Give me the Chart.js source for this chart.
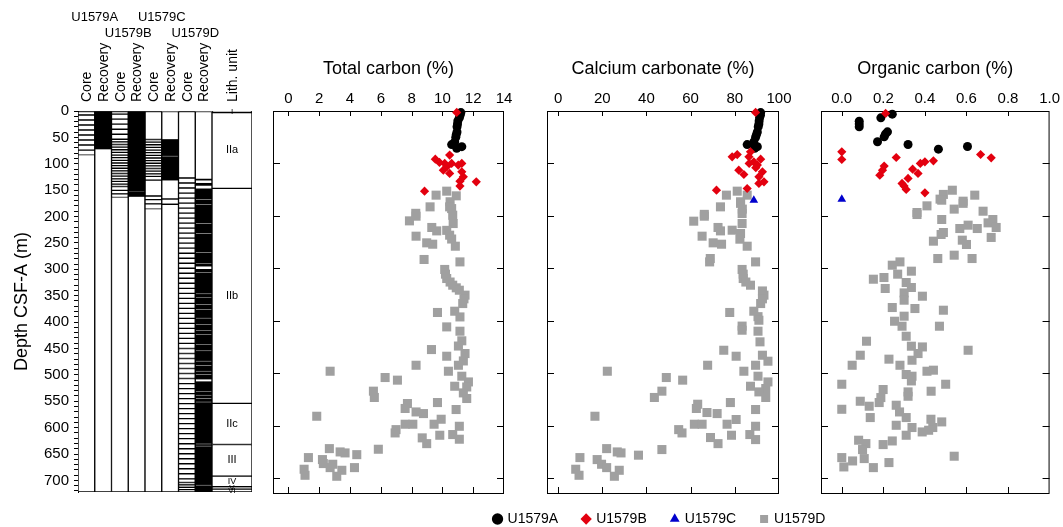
<!DOCTYPE html>
<html>
<head>
<meta charset="utf-8">
<title>Site U1579 carbon</title>
<script src="https://cdn.jsdelivr.net/npm/chart.js@4.4.1/dist/chart.umd.min.js"></script>
<style>
html,body{margin:0;padding:0;background:#ffffff;width:1063px;height:527px;overflow:hidden;position:relative;}
canvas{position:absolute;display:block;}
</style>
</head>
<body>
<canvas id="coreChart" width="1063" height="527" style="left:0;top:0;width:1063px;height:527px"></canvas>
<canvas id="lithChart" width="1063" height="527" style="left:0;top:0;width:1063px;height:527px"></canvas>
<canvas id="tcChart" width="1063" height="527" style="left:0;top:0;width:1063px;height:527px"></canvas>
<canvas id="ccChart" width="1063" height="527" style="left:0;top:0;width:1063px;height:527px"></canvas>
<canvas id="ocChart" width="1063" height="527" style="left:0;top:0;width:1063px;height:527px"></canvas>
<canvas id="legChart" width="400" height="140" style="left:460px;top:487px;width:400px;height:140px"></canvas>
<script>
// ---------------- DATA ----------------
const HOLES = ['U1579A', 'U1579B', 'U1579C', 'U1579D'];
const COLUMN_LABELS = ['Core', 'Recovery', 'Core', 'Recovery', 'Core', 'Recovery', 'Core', 'Recovery'];
const LITH_HEADER = 'Lith. unit';

const DEPTH_LABELS = [0, 50, 100, 150, 200, 250, 300, 350, 400, 450, 500, 550, 600, 650, 700];
const DEPTH_TICKS = [100, 200, 300, 400, 500, 600, 700];
const TC_TICKS = [0, 2, 4, 6, 8, 10, 12, 14];
const CC_TICKS = [0, 20, 40, 60, 80, 100];
const OC_TICKS = [0, 0.2, 0.4, 0.6, 0.8, 1.0];

// cored intervals [top, base] (m CSF-A)
const CORES_A = [[0,7.5],[7.5,17],[17,26.5],[26.5,36],[36,45.5],[45.5,55],[55,64.5],[64.5,74],[74,83.5]];
const CORES_B = [[0,6],[6,15.5],[15.5,25],[25,34.5],[34.5,44],[44,53.5],[53.5,58.5],[58.5,63.5],[63.5,68.5],[68.5,73.5],[73.5,78.5],[78.5,83.5],[83.5,88.5],[88.5,93.5],[93.5,98.5],[98.5,103.5],[103.5,108.5],[108.5,113.5],[113.5,118.5],[118.5,123.5],[123.5,128.5],[128.5,133.5],[133.5,138.5],[138.5,143],[143,150.5],[150.5,157],[157,164]];
const CORES_C = [[0,54],[54,59],[59,64],[64,69],[69,74],[74,79],[79,84],[84,89],[89,94],[94,99],[99,104],[104,109],[109,114],[114,119],[119,124],[124,131],[131,161],[161,168],[168,176],[176,186]];
const CORE_D_BOUNDS = [0,127,136.5,146,155.5,165,174.5,184,193.5,203,212.5,222,231.5,241,250.5,260,269.5,279,288.5,298,307.5,317,326.5,336,345.5,355,364.5,374,383.5,393,402.5,412,421.5,431,440.5,450,459.5,469,478.5,488,497.5,507,516.5,526,535.5,545,554.5,564,573.5,583,592.5,602,611.5,621,630.5,640,649.5,659,668.5,678,687.5,697,704,708.5,713,717.5,722];

// recovered intervals [top, base]
const REC_A = [[0,72]];
const REC_B = [[0,152.5],[154,162]];
const REC_C = [[54,84.5],[86.5,131],[166,167.5],[176,177.5]];
const REC_D = [[129,131],[137,141],[147.5,167],[169,176.5],[178.5,212],[214,231],[233,267.5],[269.5,288.5],[290.5,294],[300,305.5],[307.5,345.5],[347.5,353],[355,366],[368,375.5],[377.5,391.5],[393.5,404],[406,415.5],[417.5,423],[425,441],[443,453.5],[455.5,473],[475,481.5],[483.5,492],[494,498],[500,508],[513,530],[532,537.5],[539.5,544],[546,550.5],[552.5,630],[632,634],[636,708],[710,722]];

// lithologic units
const LITH_UNITS = ['I', 'IIa', 'IIb', 'IIc', 'III', 'IV', 'V', 'VI'];
const LITH_TOP  = [0, 3, 146.5, 554, 632, 692, 712, 716.5];
const LITH_BASE = [3, 146.5, 554, 632, 692, 712, 716.5, 722];

// [depth (m), value]
const TC_A = [[3,11.2],[8,11.15],[13,11.1],[19,11.0],[25,10.98],[30,10.95],[40,10.95],[45,10.9],[50,10.87],[59,10.8],[64,10.6],[68,11.26],[71,10.93]];
const TC_B = [[2.8,10.93],[84,10.47],[91.8,9.54],[98,9.81],[100,10.15],[100,10.6],[103,11.03],[100,11.26],[106,10.3],[112.8,10.06],[116,11.26],[119,10.47],[125.5,11.36],[133.7,11.14],[135,12.2],[143,11.14],[152.8,8.84]];
const TC_C = [];
const TC_D = [[152.8,10.28],[160.4,9.59],[161.7,10.9],[173,10.5],[182.7,9.2],[182.7,10.47],[186,10.6],[195,8.27],[198.6,10.67],[200.5,8.29],[209.4,7.86],[214.5,10.7],[222,9.31],[227.5,10.28],[228.5,9.63],[236.7,10.47],[238.6,8.29],[244,10.6],[251.3,8.98],[253.9,9.37],[257.7,10.84],[283,8.81],[287.6,11.14],[302,10.15],[311,10.2],[319.3,10.28],[326,10.5],[332,10.67],[337,10.9],[341.6,11.1],[351,11.47],[358,11.4],[367,11.32],[381.6,10.8],[384,9.68],[392.5,11.14],[411.5,10.28],[419.7,11.14],[438,11.26],[448,11.04],[454.7,9.29],[462.3,11.47],[467.4,10.28],[476.4,11.36],[484.6,11.04],[484.6,8.29],[496,10.39],[496,2.71],[505.5,11.26],[508,6.28],[513,7.08],[516.4,11.69],[524.6,10.8],[526,11.58],[534,5.52],[537.3,11.36],[546,5.58],[548,11.58],[555.7,9.68],[557.6,7.73],[567,7.58],[569,10.89],[573.6,8.29],[576.7,8.77],[581.8,1.84],[587.5,9.92],[597,7.58],[597,8.08],[597,9.46],[600.9,11.1],[607.3,6.99],[613.6,6.93],[616.7,10.67],[618,9.83],[623,8.69],[625.6,11.1],[634,8.98],[643.5,2.66],[644.7,5.84],[649.8,3.36],[651.7,3.68],[655,4.44],[660.6,1.3],[664.4,2.21],[672,2.27],[673.3,2.88],[679.7,2.71],[679.7,4.29],[682.8,1.02],[684.8,3.47],[694.3,1.08],[696.2,3.14]];

const CC_A = [[3,91.7],[8,91.6],[13,91.2],[19,91.0],[25,90.9],[30,90.6],[40,90.2],[45,89.8],[50,89.4],[59,88.6],[64,85.6],[68,90.2],[71,89.0]];
const CC_B = [[2.8,89.4],[77.8,87.1],[83,81.1],[87.4,78.8],[87.4,86.4],[91.8,91.7],[97,88.6],[100,86.5],[103,90.2],[108,89.5],[112.8,81.8],[116,92.5],[121,84.1],[125.5,90.9],[135,93.2],[138,90.9],[147.7,85.6],[151,71.7]];
const CC_C = [[170,88.6]];
const CC_D = [[152.8,81.1],[160.4,76.2],[160.4,85.6],[173,82.6],[176,82.6],[182.7,73.5],[187,83.4],[195.4,83.3],[197,66.2],[200.5,66.2],[210,61.4],[214.5,83.3],[222,72.4],[227.2,78.8],[228.5,73.5],[233.5,82.6],[238.6,65.2],[244.3,82.3],[251.3,70.2],[253.9,74],[257.7,85.6],[281.2,68.9],[287.6,68.6],[287.6,89.4],[302,83.3],[311,83.8],[319.3,83.8],[326,85],[332,87.1],[343,92.5],[351,93.2],[358,92.5],[367,91.7],[381.6,88.6],[384,77.7],[392,90.5],[398.8,90.9],[410,83.3],[417.8,83.3],[419.7,90.5],[440,91.4],[456,75],[465.5,92.5],[467.4,80.6],[476.9,95],[484.6,89.4],[484.6,67.7],[496,84.1],[496,22.3],[505.5,90.5],[508,49],[513,56.4],[516.4,95],[524.6,87.1],[529,94],[534,47],[535.4,90.9],[546,43.6],[546,94],[555.7,78],[558.9,63.2],[567,62.6],[569,89.4],[574.7,67.4],[576.7,72],[581.8,16.7],[588,80.6],[597,61.7],[597,65.2],[597,76.5],[600.9,89.4],[607.3,54.6],[613.6,56.1],[616.7,86.8],[618,78.5],[622.4,69],[626.3,89.4],[634,72.4],[643.5,22],[645.3,47],[649.8,26.8],[651.7,28.5],[656,36.4],[660.6,9.9],[664.4,17.7],[673.3,19.7],[679.7,22],[682.8,8],[684.8,27.7],[694.3,9.5],[696.2,25.5]];

const OC_A = [[6,0.243],[13,0.188],[19.4,0.084],[25,0.084],[30.2,0.084],[39.7,0.22],[44,0.21],[49.2,0.204],[58.7,0.172],[63.8,0.319],[67.6,0.605],[72.7,0.465]];
const OC_B = [[4.7,0.211],[77.8,0],[82.9,0.668],[88.6,0.262],[89.2,0.719],[92.4,0],[95,0.441],[96.9,0.40],[100,0.378],[105,0.204],[110.9,0.341],[112.8,0.196],[119,0.367],[122.3,0.183],[128.6,0.319],[138,0.29],[143,0.3],[149.6,0.31],[156,0.40]];
const OC_C = [[168,0]];
const OC_D = [[151,0.532],[159,0.489],[160.4,0.64],[168,0.473],[170,0.481],[171.9,0.584],[176,0.584],[180.8,0.41],[187,0.541],[191,0.68],[193.5,0.362],[197.3,0.362],[206.8,0.481],[206.8,0.727],[213.2,0.704],[217.6,0.608],[222,0.743],[224,0.568],[224,0.652],[231.6,0.489],[235.4,0.478],[241,0.719],[246.2,0.58],[248.1,0.441],[254.4,0.6],[274.8,0.541],[281.2,0.462],[281.2,0.627],[287.6,0.28],[293.9,0.243],[305.3,0.335],[311,0.269],[317.4,0.203],[320.6,0.152],[326.9,0.31],[336.4,0.335],[338.3,0.209],[346.7,0.3],[353,0.388],[360.6,0.3],[374.6,0.243],[376.5,0.352],[379.7,0.489],[391.1,0.3],[400.7,0.254],[410.2,0.29],[410.2,0.47],[429.3,0.31],[438.8,0.119],[448.3,0.335],[449.7,0.388],[456,0.608],[462.3,0.367],[465.5,0.089],[473,0.227],[475,0.338],[484.6,0.05],[484.6,0.28],[494,0.441],[496,0.41],[502.3,0.31],[505.5,0.338],[514.5,0.335],[520.8,0],[520.8,0.5],[530.9,0.199],[534.1,0.43],[535.4,0.319],[543.7,0.319],[546.2,0.188],[553.2,0.089],[555.7,0.18],[560.8,0.262],[562.7,0.132],[568.5,0],[573.6,0.278],[584.3,0.137],[584.3,0.31],[587.5,0.429],[592.6,0.481],[599,0.262],[603.3,0.338],[603.3,0.438],[608.5,0.418],[611.7,0.387],[618,0.31],[627.5,0.081],[628.9,0.243],[633.9,0.116],[635.8,0.199],[645.3,0.1],[658,0.541],[660.6,0],[662.5,0.108],[667,0.052],[670.1,0.227],[678.4,0.01],[679.7,0.152]];

// ---------------- LAYOUT / STYLE ----------------
const FONT = "'Liberation Sans', Arial, Helvetica, sans-serif";
Chart.defaults.font.family = FONT;
Chart.defaults.color = '#000000';
const W = 1063, H = 527;
const LITH_MAX = 722, PANEL_MAX = 730;
const CORE_AREA = {left: 78, right: 212, top: 111, bottom: 492};
const UNIT_AREA = {left: 212, right: 252, top: 111, bottom: 492};
const PANEL_TOP = 111, PANEL_BOTTOM = 494;
const SERIES_STYLE = [
  {pointStyle: 'circle',   radius: 4.5, color: '#000000', order: 1},
  {pointStyle: 'rectRot',  radius: 4.6, color: '#e3000f', order: 0},
  {pointStyle: 'triangle', radius: 5.0, color: '#0000cd', order: 2},
  {pointStyle: 'rect',     radius: 6.4, color: '#a0a0a0', order: 3}
];

function padFor(area) {
  return {left: area.left, right: W - area.right, top: area.top, bottom: H - area.bottom};
}

// ---------------- CORE / RECOVERY COLUMNS ----------------
function pairsFromBounds(b) { const out = []; for (let i = 0; i < b.length - 1; i++) out.push([b[i], b[i + 1]]); return out; }
const CORE_LISTS = [CORES_A, CORES_B, CORES_C, pairsFromBounds(CORE_D_BOUNDS)];
const REC_LISTS = [REC_A, REC_B, REC_C, REC_D];

const outlineData = COLUMN_LABELS.map((_, i) => ({x: i, y: [0, LITH_MAX]}));
const coreData = [], recData = [];
CORE_LISTS.forEach((list, h) => list.forEach(iv => coreData.push({x: 2 * h, y: iv})));
REC_LISTS.forEach((list, h) => list.forEach(iv => recData.push({x: 2 * h + 1, y: iv})));

const headerPlugin = {
  id: 'headers',
  afterDraw(chart) {
    const {ctx} = chart; const x = chart.scales.x;
    ctx.save();
    ctx.fillStyle = '#000';
    ctx.font = '14px ' + FONT;
    ctx.textAlign = 'left'; ctx.textBaseline = 'middle';
    COLUMN_LABELS.forEach((t, i) => {
      ctx.save();
      ctx.translate(x.getPixelForValue(i) + 1, 102);
      ctx.rotate(-Math.PI / 2);
      ctx.fillText(t, 0, 0);
      ctx.restore();
    });
    ctx.font = '13px ' + FONT; ctx.textAlign = 'center';
    HOLES.forEach((hname, k) => {
      const px = (x.getPixelForValue(2 * k) + x.getPixelForValue(2 * k + 1)) / 2;
      ctx.fillText(hname, px, k % 2 === 0 ? 17 : 33);
    });
    ctx.restore();
  }
};

new Chart(document.getElementById('coreChart'), {
  type: 'bar',
  data: {
    datasets: [
      {label: 'outline', data: outlineData, backgroundColor: '#ffffff', borderColor: '#000000', borderWidth: 1, borderSkipped: false, grouped: false, order: 3, barPercentage: 1, categoryPercentage: 1},
      {label: 'cores', data: coreData, backgroundColor: '#ffffff', borderColor: '#000000', borderWidth: 1, borderSkipped: false, grouped: false, order: 2, barPercentage: 1, categoryPercentage: 1},
      {label: 'recovery', data: recData, backgroundColor: '#000000', borderWidth: 0, grouped: false, order: 1, barPercentage: 1, categoryPercentage: 1}
    ]
  },
  options: {
    responsive: false, animation: false, events: [],
    layout: {padding: {left: 0, right: W - CORE_AREA.right, top: CORE_AREA.top, bottom: H - CORE_AREA.bottom}},
    plugins: {legend: {display: false}, tooltip: {enabled: false}},
    scales: {
      x: {type: 'linear', display: false, min: -0.5, max: 7.5, offset: false},
      y: {
        type: 'linear', reverse: true, min: 0, max: LITH_MAX, position: 'left',
        afterFit: s => { s.width = CORE_AREA.left; },
        ticks: {stepSize: 10, includeBounds: false, autoSkip: false, font: {size: 15}, padding: 5, color: '#000',
                callback: v => DEPTH_LABELS.includes(v) ? String(v) : ''},
        grid: {drawOnChartArea: false, drawTicks: true, tickLength: 4, color: '#000', tickColor: '#000'},
        border: {display: true, color: '#000', width: 1},
        title: {display: true, text: 'Depth CSF-A (m)', font: {size: 18}, padding: {top: 11, bottom: 0}, color: '#000'}
      }
    }
  },
  plugins: [headerPlugin]
});

// ---------------- LITH UNIT COLUMN ----------------
const LITH_FONT = [8, 11, 11, 11, 11, 9, 8, 8];
const lithLabelPlugin = {
  id: 'lithLabels',
  afterDraw(chart) {
    const {ctx} = chart; const meta = chart.getDatasetMeta(0);
    ctx.save(); ctx.fillStyle = '#000'; ctx.textAlign = 'center'; ctx.textBaseline = 'middle';
    meta.data.forEach((bar, i) => {
      ctx.font = LITH_FONT[i] + 'px ' + FONT;
      ctx.fillText(LITH_UNITS[i], bar.x, (bar.y + bar.base) / 2);
    });
    ctx.font = '14px ' + FONT; ctx.textAlign = 'left';
    ctx.translate(chart.scales.x.getPixelForValue(0) + 1, 102);
    ctx.rotate(-Math.PI / 2);
    ctx.fillText(LITH_HEADER, 0, 0);
    ctx.restore();
  }
};
new Chart(document.getElementById('lithChart'), {
  type: 'bar',
  data: {datasets: [{label: 'units', data: LITH_UNITS.map((u, i) => ({x: 0, y: [LITH_TOP[i], LITH_BASE[i]]})),
    backgroundColor: '#ffffff', borderColor: '#000000', borderWidth: 1, borderSkipped: false, barPercentage: 1, categoryPercentage: 1}]},
  options: {
    responsive: false, animation: false, events: [],
    layout: {padding: padFor(UNIT_AREA)},
    plugins: {legend: {display: false}, tooltip: {enabled: false}},
    scales: {
      x: {type: 'linear', display: false, min: -0.5, max: 0.5, offset: false},
      y: {type: 'linear', display: false, reverse: true, min: 0, max: LITH_MAX}
    }
  },
  plugins: [lithLabelPlugin]
});

// ---------------- SCATTER PANELS ----------------
const framePlugin = {
  id: 'frame',
  beforeDatasetsDraw(chart, args, opts) {
    const {ctx, chartArea: a} = chart; const x = chart.scales.x, y = chart.scales.y;
    ctx.save();
    ctx.strokeStyle = '#000'; ctx.lineWidth = 1;
    ctx.strokeRect(a.left + 0.5, a.top + 0.5, a.right - a.left - 1, a.bottom - a.top - 1);
    ctx.beginPath();
    opts.xTicks.forEach(v => {
      const px = Math.round(x.getPixelForValue(v)) + 0.5;
      if (px <= a.left + 1 || px >= a.right - 1) return;
      ctx.moveTo(px, a.top); ctx.lineTo(px, a.top + 5);
      ctx.moveTo(px, a.bottom); ctx.lineTo(px, a.bottom - 7);
    });
    opts.yTicks.forEach(v => {
      const py = Math.round(y.getPixelForValue(v)) + 0.5;
      ctx.moveTo(a.left, py); ctx.lineTo(a.left + 7, py);
      ctx.moveTo(a.right, py); ctx.lineTo(a.right - 7, py);
    });
    ctx.stroke();
    ctx.restore();
  }
};

function makeDataset(k, pairs) {
  const s = SERIES_STYLE[k];
  return {
    label: HOLES[k], data: pairs.map(p => ({x: p[1], y: p[0]})),
    pointStyle: s.pointStyle, pointRadius: s.radius, pointBackgroundColor: s.color, backgroundColor: s.color,
    borderColor: s.color, pointBorderWidth: 0, borderWidth: 0, order: s.order, clip: false
  };
}

function panel(id, title, left, right, xmin, xmax, ticks, fmt, series) {
  new Chart(document.getElementById(id), {
    type: 'scatter',
    data: {datasets: series.map((pairs, k) => makeDataset(k, pairs))},
    options: {
      responsive: false, animation: false, events: [],
      layout: {padding: {left: left, right: W - right, top: 0, bottom: H - PANEL_BOTTOM}},
      plugins: {legend: {display: false}, tooltip: {enabled: false}, frame: {xTicks: ticks, yTicks: DEPTH_TICKS}},
      scales: {
        x: {
          type: 'linear', position: 'top', min: xmin, max: xmax,
          afterBuildTicks: s => { s.ticks = ticks.map(v => ({value: v})); },
          afterFit: s => { s.height = PANEL_TOP; },
          grid: {display: false, drawTicks: false}, border: {display: false},
          ticks: {font: {size: 15}, padding: 3, color: '#000', maxRotation: 0, autoSkip: false, callback: v => fmt(v)},
          title: {display: true, text: title, font: {size: 18}, padding: {top: 58, bottom: 0}, color: '#000'}
        },
        y: {type: 'linear', display: false, reverse: true, min: 0, max: PANEL_MAX}
      }
    },
    plugins: [framePlugin]
  });
}

panel('tcChart', 'Total carbon (%)', 273, 504, -1, 14, TC_TICKS, v => String(v), [TC_A, TC_B, TC_C, TC_D]);
panel('ccChart', 'Calcium carbonate (%)', 547, 779, -5, 100, CC_TICKS, v => String(v), [CC_A, CC_B, CC_C, CC_D]);
panel('ocChart', 'Organic carbon (%)', 821, 1053, -0.1, 1.0, OC_TICKS, v => v.toFixed(1), [OC_A, OC_B, OC_C, OC_D]);

// ---------------- LEGEND ----------------
new Chart(document.getElementById('legChart'), {
  type: 'scatter',
  data: {datasets: HOLES.map((h, k) => { const d = makeDataset(k, []); delete d.order; return d; })},
  options: {
    responsive: false, animation: false, events: [],
    layout: {padding: 0},
    scales: {x: {display: false}, y: {display: false}},
    plugins: {
      tooltip: {enabled: false},
      legend: {display: true, position: 'top', maxHeight: 120,
        labels: {usePointStyle: true, boxWidth: 6, boxHeight: 8, padding: 25, font: {size: 14}, color: '#000'}}
    }
  }
});
</script>
</body>
</html>
